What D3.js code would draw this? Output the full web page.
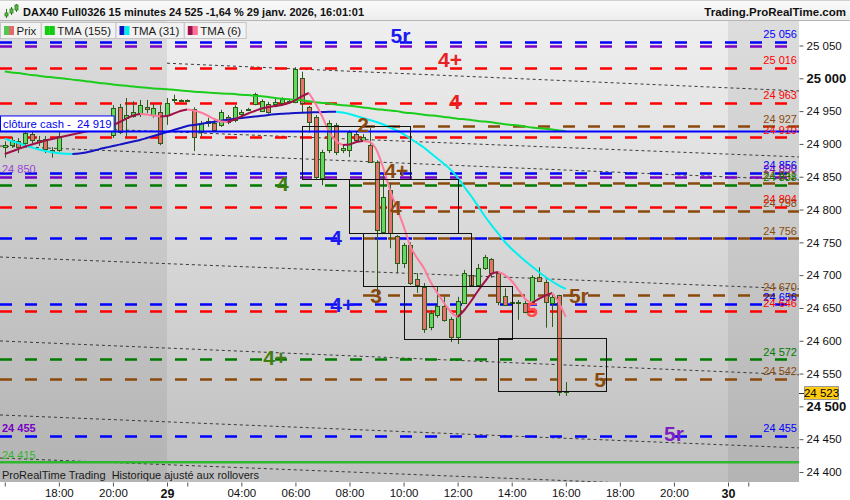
<!DOCTYPE html>
<html>
<head>
<meta charset="utf-8">
<script src="https://cdn.jsdelivr.net/npm/d3@7/dist/d3.min.js"></script>
<style>
html,body{margin:0;padding:0;background:#fff;}
svg{display:block;font-family:"Liberation Sans",Arial,Helvetica,sans-serif;}
</style>
</head>
<body>
<svg id="chart" width="850" height="500"></svg>
<script>
// ================= DATA =================
const times = [
 "28 16:00","28 16:15","28 16:30","28 16:45","28 17:00","28 17:15","28 17:30","28 17:45",
 "28 18:00","28 18:15","28 18:30","28 18:45","28 19:00","28 19:15","28 19:30","28 19:45",
 "28 20:00","28 20:15","28 20:30","28 20:45","28 21:00","28 21:15","28 21:30","28 21:45",
 "29 01:15","29 01:30","29 01:45","29 02:00","29 02:15","29 02:30","29 02:45","29 03:00",
 "29 03:15","29 03:30","29 03:45","29 04:00","29 04:15","29 04:30","29 04:45","29 05:00",
 "29 05:15","29 05:30","29 05:45","29 06:00","29 06:15","29 06:30","29 06:45","29 07:00",
 "29 07:15","29 07:30","29 07:45","29 08:00","29 08:15","29 08:30","29 08:45","29 09:00",
 "29 09:15","29 09:30","29 09:45","29 10:00","29 10:15","29 10:30","29 10:45","29 11:00",
 "29 11:15","29 11:30","29 11:45","29 12:00","29 12:15","29 12:30","29 12:45","29 13:00",
 "29 13:15","29 13:30","29 13:45","29 14:00","29 14:15","29 14:30","29 14:45","29 15:00",
 "29 15:15","29 15:30","29 15:45","29 16:00"];

const open = [
 24895,24898,24904,24901,24915,24906,24907,24891,24891,24920,24929,24924,24933,24930,24936,24932,
 24914,24956,24940,24943,24947,24956,24944,24949,
 24944,24967,24967,24965,24953,24918,24932,24932,24929,24941,24936,24946,24953,24961,24950,24961,
 24961,24962,24964,24964,25000,24956,24941,24848,24891,24929,24891,24891,24915,24906,24898,24872,
 24766,24830,24760,24719,24746,24694,24682,24621,24639,24653,24633,24606,24658,24700,24685,24711,
 24725,24703,24668,24658,24658,24658,24659,24697,24690,24658,24670,24521];
const high = [
 24904,24911,24909,24921,24920,24912,24912,24895,24920,24933,24935,24938,24938,24940,24940,24938,
 24959,24961,24970,24965,24967,24967,24961,24959,
 24970,24975,24968,24968,24956,24935,24940,24936,24952,24944,24959,24952,24955,24978,24968,24964,
 24970,24971,24968,25017,25010,24958,24944,24891,24936,24932,24898,24921,24918,24915,24924,24875,
 24853,24840,24761,24749,24750,24703,24688,24647,24682,24667,24636,24667,24708,24705,24717,24731,
 24726,24705,24680,24673,24662,24661,24700,24712,24693,24670,24670,24537];
const low = [
 24879,24894,24886,24897,24901,24897,24886,24879,24888,24919,24920,24921,24924,24926,24927,24920,
 24909,24915,24911,24940,24941,24947,24940,24898,
 24929,24962,24964,24964,24889,24911,24926,24918,24926,24930,24933,24941,24951,24959,24949,24946,
 24956,24961,24961,24962,24947,24917,24845,24837,24886,24883,24886,24880,24903,24903,24871,24667,
 24764,24741,24703,24711,24685,24673,24612,24616,24635,24629,24598,24595,24656,24682,24682,24708,
 24696,24654,24653,24655,24632,24642,24657,24690,24620,24621,24516,24516];
const close = [
 24898,24906,24895,24917,24906,24903,24891,24888,24912,24929,24924,24933,24930,24936,24932,24924,
 24955,24918,24944,24949,24959,24953,24955,24901,
 24962,24968,24965,24967,24911,24932,24935,24921,24949,24933,24956,24949,24952,24976,24965,24949,
 24964,24968,24965,25014,24962,24933,24850,24888,24932,24888,24894,24918,24906,24911,24872,24768,
 24819,24764,24719,24746,24688,24685,24618,24642,24653,24632,24606,24661,24703,24685,24711,24728,
 24703,24659,24654,24659,24659,24644,24697,24691,24659,24667,24522,24523];

const tma155 = [
 25010.5,25009,25008,25006.5,25005,25004,25002.5,25001.5,25000.5,24999.5,24998,24997,24995.5,24994.5,24993,24992,
 24990.5,24989.5,24988.5,24987.5,24986.5,24985.5,24984.5,24984,
 24983.5,24982.5,24981.5,24980.5,24979.5,24979,24978.5,24977.5,24977,24976.5,24976,24975,24974.5,24973.5,24972.5,24971.5,
 24970,24969,24968,24967,24966.5,24965,24963.5,24962.5,24961.5,24960,24959,24958,24957,24955.5,24954.5,24953,
 24952,24951,24950,24948,24947,24946,24944.5,24943.5,24942.5,24941,24940,24938.5,24937.5,24936.5,24935,24934,
 24933,24931.5,24930,24929,24928,24926.5,24925,24924,24923,24922,24920.5,24919.5];
const tma31 = [
 24908.2,24904.4,24901.4,24897.6,24894.5,24891.5,24889.2,24887.2,24885.8,24884.9,24884.6,24885.4,24886.9,24889.2,24892.1,24894.4,
 24896.7,24898.9,24901.4,24903.7,24906.0,24909.0,24912.1,24915.1,
 24918.2,24921.2,24924.2,24927.3,24928.8,24930.5,24932.2,24933.7,24935.4,24937.0,24938.3,24939.5,24940.7,24941.8,24942.8,24944.1,
 24945.1,24945.9,24946.5,24947.1,24947.6,24948.0,24948.3,24948.6,24948.9,24949.1,24947.9,24945.6,24942.5,24939.5,24936.4,24933.4,
 24929.6,24925.0,24920.4,24915.1,24908.2,24901.4,24894.5,24886.1,24877.8,24869.4,24860.2,24848.8,24834.3,24820.6,24805.4,24790.1,
 24776.4,24763.5,24750.5,24739.9,24730.7,24721.6,24713.2,24704.8,24697.2,24690.3,24684.2,24678.9];
const tma6 = [
 24884.6,24888.4,24892.2,24896.1,24899.1,24902.1,24905.2,24907.5,24909.8,24912.1,24914.3,24916.6,24918.9,24921.2,24923.5,24925.8,
 24928.8,24933.4,24938.7,24943.3,24945.6,24944.8,24943.3,24941.8,
 24942.5,24946.3,24950.2,24952.4,24950.9,24947.9,24943.3,24938.0,24934.2,24933.4,24937.2,24941.8,24946.3,24950.2,24954.0,24956.2,
 24957.8,24959.3,24962.3,24966.9,24973.0,24977.6,24960.8,24941.0,24918.2,24904.4,24898.3,24899.1,24902.9,24904.4,24902.9,24890.7,
 24863.3,24829.8,24802.3,24774.9,24744.4,24726.1,24710.9,24689.6,24672.8,24657.6,24643.8,24636.2,24646.9,24660.6,24675.9,24689.6,
 24701.8,24704.8,24700.2,24691.1,24677.4,24663.7,24657.6,24663.7,24669.0,24672.8,24657.6,24636.2];

// horizontal levels
const levelValues = [25056,25049,25016,24963,24927,24910,24856,24850,24841,24838,24804,24798,24756,24756,24670,24656,24646,24572,24542,24455];
const levelKinds  = ["blue","purple","red","red","brown","red","blue","purple","brown","green","red","brown","blue","brown","brown","blue","red","green","brown","blue"];
const levelStart  = [null,null,null,null,"29 08:30",null,null,null,"29 08:30",null,null,"29 08:30",null,"29 08:30","29 08:30",null,null,null,null,null];
const levelShowValue = [1,0,1,1,1,1,1,1,1,1,1,1,0,1,1,1,1,1,1,1];

const cashClose = 24919;
const supportLine = 24415;
const leftLabelValues = [24850,24455,24415];
const leftLabelKinds = ["purpleL","purple","greenSolid"];

// level annotations
const annTexts  = ["5r","4+","4","2","4+","4","4","4","3","4+","5","5r","4+","5","5r"];
const annTimes  = ["29 09:53","29 11:43","29 11:54","29 08:30","29 09:44","29 05:32","29 09:43","29 07:30","29 08:59","29 07:44","29 14:45","29 16:29","29 05:15","29 17:16","29 20:00"];
const annPrices = [25065,25028,24964,24930,24860,24840,24803,24757,24669,24655,24647,24669,24574,24541,24459];
const annKinds  = ["blue","red","red","brown","brown","green","brown","blue","brown","blue","red2","brown","green","brown","purple"];

// boxes
const boxStart = ["29 06:15","29 08:00","29 08:30","29 10:00","29 13:30"];
const boxEnd   = ["29 10:15","29 12:00","29 12:30","29 14:00","29 17:30"];
const boxTop   = [24927,24846,24765,24684,24604];
const boxBottom= [24846,24765,24684,24603,24523];

// channel (trend) lines
const trendStartTime  = ["29 01:15","28 16:00","28 16:00","28 16:00","28 16:00","28 16:00","28 16:00"];
const trendStartPrice = [25023,24928.5,24896.5,24727.4,24599.4,24486.6,24421.0];
const trendEndTime    = ["30 01:15","30 01:15","30 01:15","30 01:15","30 01:15","30 01:15","30 01:15"];
const trendEndPrice   = [24985.5,24884.5,24849.7,24683.3,24552.6,24441.2,24377.0];

// axes
const xTickTimes  = ["28 16:00","28 18:00","28 20:00","29 01:15","29 02:00","29 04:00","29 06:00","29 08:00","29 10:00","29 12:00","29 14:00","29 16:00","29 18:00","29 20:00","30 01:15","30 02:00"];
const xTickLabels = ["","18:00","20:00","29","","04:00","06:00","08:00","10:00","12:00","14:00","16:00","18:00","20:00","30",""];
const yTicks = [24400,24450,24500,24550,24600,24650,24700,24750,24800,24850,24900,24950,25000,25050];
const yBoldTicks = [24500,25000];
const lastPrice = 24523;

const titleText = "DAX40 Full0326 15 minutes 24 525 -1,64 % 29 janv. 2026, 16:01:01";
const siteText = "Trading.ProRealTime.com";
const footText = "ProRealTime Trading  Historique ajusté aux rollovers";
const legendLabels = ["Prix","TMA (155)","TMA (31)","TMA (6)"];

// ================= STYLE =================
const col = {
  blue:"#0000ff", purple:"#7a00c6", red:"#ff0000", brown:"#8b4a0d", green:"#007a00",
  red2:"#ff4545", purpleL:"#9b45d6", greenSolid:"#2eb82e"
};
const annCol = {blue:"#1a1af0", red:"#e82222", red2:"#ff4a4a", brown:"#8b4a0d", green:"#3f7d12", purple:"#7c1fc2"};
const legendIcons = [["#4fc94f","#e36a6a"],["#11cc11","#11cc11"],["#1010c8","#00f0f0"],["#a0104a","#ff7098"]];

// ================= CHART =================
const W = 850, H = 500;
const P = {l:0, r:799, t:21, b:482};
const svg = d3.select("#chart");
const slot = s => { const [d, hm] = s.split(" "); const [h, m] = hm.split(":").map(Number); return (+d - 29) * 83 + (h * 60 + m - 75) / 15; };
const x = d3.scaleLinear().domain([0, 83]).range([167, 728]);
const y = d3.scaleLinear().domain([24400, 25050]).range([472, 45.5]);
const fr = d3.formatLocale({decimal:",", thousands:" ", grouping:[3], currency:["","€"]});
const fmt = fr.format(",.0f");

const defs = svg.append("defs");
function grad(id, c1, c2){
  const gr = defs.append("linearGradient").attr("id", id).attr("x1",0).attr("y1",0).attr("x2",0).attr("y2",1);
  gr.append("stop").attr("offset","0%").attr("stop-color",c1);
  gr.append("stop").attr("offset","100%").attr("stop-color",c2);
}
grad("gMain","#efefef","#bfbfbf");
grad("gOff","#dddddd","#b3b3b3");
grad("gHead","#fbfbfb","#ececec");
defs.append("clipPath").attr("id","clip").append("rect").attr("x",P.l).attr("y",P.t).attr("width",P.r-P.l).attr("height",P.b-P.t);

// header
svg.append("rect").attr("x",0).attr("y",0).attr("width",W).attr("height",P.t).attr("fill","url(#gHead)");
svg.append("line").attr("x1",0).attr("x2",W).attr("y1",0.5).attr("y2",0.5).attr("stroke","#d0d0d0");
// plot background
svg.append("rect").attr("x",P.l).attr("y",P.t).attr("width",P.r-P.l).attr("height",P.b-P.t).attr("fill","url(#gMain)");
svg.append("rect").attr("x",P.l).attr("y",P.t).attr("width",x(0)-P.l).attr("height",P.b-P.t).attr("fill","url(#gOff)");
svg.append("rect").attr("x",x(83)).attr("y",P.t).attr("width",P.r-x(83)).attr("height",P.b-P.t).attr("fill","url(#gOff)");
svg.append("line").attr("x1",0).attr("x2",W).attr("y1",P.t-0.5).attr("y2",P.t-0.5).attr("stroke","#b5b5b5");

const g = svg.append("g").attr("clip-path","url(#clip)");

// trend lines
const firstSlot = slot(times[0]);
trendStartTime.forEach((t,i) => {
  const s0 = slot(t), s1 = slot(trendEndTime[i]);
  const k = (trendEndPrice[i]-trendStartPrice[i])/(s1-s0);
  const sL = (s0 === firstSlot) ? x.invert(P.l) : s0;
  const sR = x.invert(P.r);
  g.append("line")
    .attr("x1",x(sL)).attr("y1",y(trendStartPrice[i]+k*(sL-s0)))
    .attr("x2",x(sR)).attr("y2",y(trendStartPrice[i]+k*(sR-s0)))
    .attr("stroke","#3a3a3a").attr("stroke-width",1).attr("stroke-dasharray","3,3");
});

// dashed levels
levelValues.forEach((v,i) => {
  const x1 = levelStart[i] ? x(slot(levelStart[i])) : P.l;
  g.append("line").attr("x1",x1).attr("x2",P.r).attr("y1",Math.round(y(v))+0.5).attr("y2",Math.round(y(v))+0.5)
    .attr("stroke",col[levelKinds[i]]).attr("stroke-width",2.6).attr("stroke-dasharray","12,13");
});

// candles
const idx = d3.range(times.length);
const cx = i => Math.round(x(slot(times[i])));
const wickCol = "#2b5c16";
g.append("g").selectAll("line").data(idx).join("line")
  .attr("x1",i=>cx(i)+0.5).attr("x2",i=>cx(i)+0.5)
  .attr("y1",i=>y(high[i])).attr("y2",i=>y(low[i]))
  .attr("stroke",wickCol).attr("stroke-width",1);
g.append("g").selectAll("rect").data(idx).join("rect")
  .attr("x",i=>cx(i)-1.5).attr("width",4)
  .attr("y",i=>Math.round(y(Math.max(open[i],close[i])))+0.5)
  .attr("height",i=>Math.max(1,Math.round(Math.abs(y(open[i])-y(close[i])))))
  .attr("fill",i=>close[i]>=open[i]?"#62d862":"#ea6f6f")
  .attr("stroke",wickCol).attr("stroke-width",1);

// moving averages
function drawMA(vals, upC, downC){
  const runs = [];
  let cur = null;
  for (let i=0;i<vals.length-1;i++){
    const up = vals[i+1] >= vals[i];
    if (!cur || cur.up !== up){ cur = {up, pts:[i]}; runs.push(cur); }
    cur.pts.push(i+1);
  }
  const line = d3.line().x(i=>x(slot(times[i]))).y(i=>y(vals[i])).curve(d3.curveMonotoneX);
  runs.forEach(r => g.append("path").attr("d",line(r.pts)).attr("fill","none")
    .attr("stroke",r.up?upC:downC).attr("stroke-width",2).attr("stroke-linejoin","round"));
}
drawMA(tma155,"#1ccc1c","#1ccc1c");
drawMA(tma31,"#1414c4","#00f0f0");
drawMA(tma6,"#9e1048","#ff7a9c");

// solid lines
g.append("line").attr("x1",P.l).attr("x2",P.r).attr("y1",y(cashClose)).attr("y2",y(cashClose)).attr("stroke","#0000ff").attr("stroke-width",2);
g.append("line").attr("x1",P.l).attr("x2",P.r).attr("y1",y(supportLine)).attr("y2",y(supportLine)).attr("stroke",col.greenSolid).attr("stroke-width",2.5);

// boxes
boxStart.forEach((s,i) => {
  const x0 = Math.round(x(slot(s)))+0.5, x1 = Math.round(x(slot(boxEnd[i])))+0.5;
  const y0 = Math.round(y(boxTop[i]))+0.5, y1 = Math.round(y(boxBottom[i]))+0.5;
  g.append("rect").attr("x",x0).attr("y",y0).attr("width",x1-x0).attr("height",y1-y0)
    .attr("fill","none").attr("stroke","#111").attr("stroke-width",1);
});

// annotations
annTexts.forEach((t,i) => {
  g.append("text").attr("x",x(slot(annTimes[i]))).attr("y",y(annPrices[i])+7.5)
    .attr("text-anchor","middle").attr("font-size",21).attr("font-weight","bold")
    .attr("fill",annCol[annKinds[i]]).text(t);
});

// right value labels
levelValues.forEach((v,i) => {
  if (!levelShowValue[i]) return;
  g.append("text").attr("x",797).attr("y",y(v)-3.5).attr("text-anchor","end")
    .attr("font-size",11).attr("fill",col[levelKinds[i]]).text(fmt(v));
});
// left labels
leftLabelValues.forEach((v,i) => {
  g.append("text").attr("x",2).attr("y",y(v)-3.5).attr("font-size",11)
    .attr("font-weight", leftLabelKinds[i]==="purple" ? "bold" : "normal")
    .attr("fill",col[leftLabelKinds[i]]).text(fmt(v));
});

// cash close label
const cc = g.append("g");
const ccText = cc.append("text").attr("x",3).attr("y",y(cashClose)-3).attr("font-size",11.3).attr("fill","#0000ee")
  .attr("xml:space","preserve").style("white-space","pre")
  .text("clôture cash -  " + fmt(cashClose));
const ccW = ccText.node().getComputedTextLength();
cc.insert("rect","text").attr("x",0.5).attr("y",y(cashClose)-15.5).attr("width",ccW+5).attr("height",15)
  .attr("fill","#fff").attr("stroke","#0000ff").attr("stroke-width",1);

// footer note
g.append("text").attr("x",2).attr("y",479).attr("font-size",11).attr("fill","#1a1a1a").attr("xml:space","preserve").style("white-space","pre").text(footText);

// legend
let lx = 0.5;
legendLabels.forEach((lab,i) => {
  const lg = svg.append("g");
  const t = lg.append("text").attr("x",lx+16).attr("y",35).attr("font-size",11.5).attr("fill","#1a1a1a").text(lab);
  const tw = t.node().getComputedTextLength();
  lg.insert("rect","text").attr("x",lx).attr("y",22.5).attr("width",tw+21).attr("height",16)
    .attr("fill","#f2f2f2").attr("stroke","#c4c4c4");
  lg.append("rect").attr("x",lx+3.5).attr("y",26).attr("width",5).attr("height",9).attr("fill",legendIcons[i][0]);
  lg.append("rect").attr("x",lx+8.5).attr("y",26).attr("width",5).attr("height",9).attr("fill",legendIcons[i][1]);
  lx += tw + 21;
});

// header texts + icon
const icon = svg.append("g");
[[5,13,16,9,18],[10,9,13,7,15],[15,5,10,4,12]].forEach(c => {
  icon.append("line").attr("x1",c[0]+1.5).attr("x2",c[0]+1.5).attr("y1",c[3]).attr("y2",c[4]).attr("stroke","#2b7a1e");
  icon.append("rect").attr("x",c[0]).attr("y",c[1]).attr("width",3).attr("height",c[2]-c[1]).attr("fill","#55c040").attr("stroke","#2b7a1e").attr("stroke-width",0.8);
});
svg.append("text").attr("x",23).attr("y",16).attr("font-size",11).attr("font-weight","bold").attr("fill","#111").text(titleText);
svg.append("text").attr("x",846).attr("y",16).attr("text-anchor","end").attr("font-size",11.5).attr("font-weight","bold").attr("fill","#111").text(siteText);

// right axis
svg.append("rect").attr("x",P.r).attr("y",P.t).attr("width",W-P.r).attr("height",H-P.t).attr("fill","#fff");
const yAxis = d3.axisRight(y).tickValues(yTicks).tickFormat(fmt).tickSize(4).tickPadding(3);
const ya = svg.append("g").attr("transform",`translate(${P.r+0.5},0)`).call(yAxis);
ya.select(".domain").remove();
ya.selectAll(".tick line").attr("stroke","#555");
ya.selectAll(".tick text").attr("font-family","Liberation Sans, Arial, sans-serif").attr("font-size",11.5).attr("fill","#111")
  .filter(d=>yBoldTicks.includes(d)).attr("font-weight","bold").attr("font-size",13);
// last price tag
const ly = y(lastPrice)+1.5;
svg.append("line").attr("x1",P.r).attr("x2",P.r+5).attr("y1",Math.round(ly)+0.5).attr("y2",Math.round(ly)+0.5).attr("stroke","#333");
svg.append("rect").attr("x",804.5).attr("y",Math.round(ly)-6.5).attr("width",34).attr("height",13)
  .attr("fill","#ffcc11").attr("stroke","#9a9a9a");
svg.append("text").attr("x",821.5).attr("y",Math.round(ly)+4).attr("text-anchor","middle").attr("font-size",11.5).attr("fill","#000").text(fmt(lastPrice));

// bottom axis
svg.append("rect").attr("x",0).attr("y",P.b).attr("width",W).attr("height",H-P.b).attr("fill","#fff");
const xAxis = d3.axisBottom(x).tickValues(xTickTimes.map(slot)).tickFormat((d,i)=>xTickLabels[i]).tickSize(4).tickPadding(2);
const xa = svg.append("g").attr("transform",`translate(0,${P.b+0.5})`).call(xAxis);
xa.select(".domain").remove();
xa.selectAll(".tick line").attr("stroke","#555");
xa.selectAll(".tick text").attr("font-family","Liberation Sans, Arial, sans-serif").attr("font-size",11.5).attr("fill","#111")
  .attr("dy","0.78em")
  .filter((d,i)=>xTickLabels[i]==="29"||xTickLabels[i]==="30").attr("font-weight","bold").attr("font-size",12.5).attr("dy","0.72em");
</script>
</body>
</html>
